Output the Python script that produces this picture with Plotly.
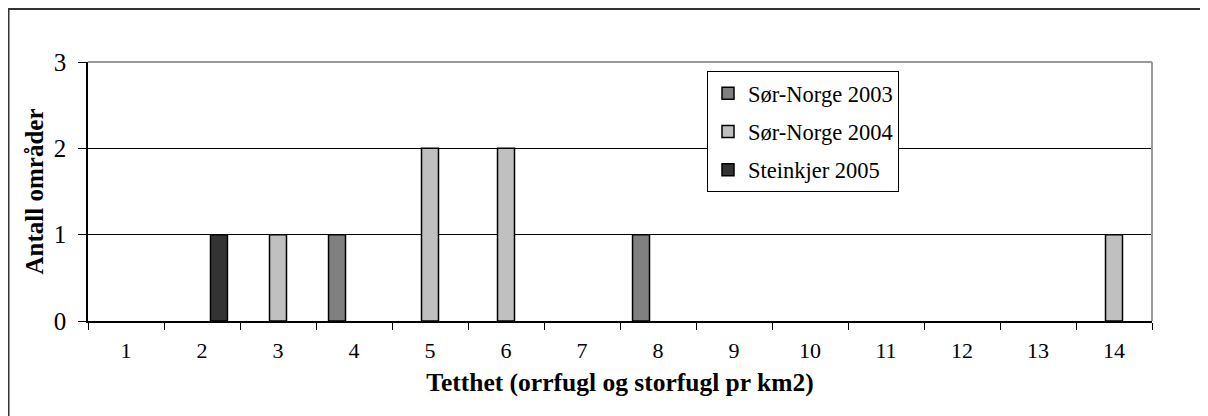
import plotly.graph_objects as go

categories = [str(i) for i in range(1, 15)]
sor_norge_2003 = [0, 0, 0, 1, 0, 0, 0, 1, 0, 0, 0, 0, 0, 0]
sor_norge_2004 = [0, 0, 1, 0, 2, 2, 0, 0, 0, 0, 0, 0, 0, 1]
steinkjer_2005 = [0, 1, 0, 0, 0, 0, 0, 0, 0, 0, 0, 0, 0, 0]

series = [
    ("Sør-Norge 2003", sor_norge_2003, "#808080"),
    ("Sør-Norge 2004", sor_norge_2004, "#c0c0c0"),
    ("Steinkjer 2005", steinkjer_2005, "#333333"),
]

FONT = "Liberation Serif"

fig = go.Figure()
for i, (name, vals, col) in enumerate(series):
    fig.add_trace(go.Bar(
        x=categories, y=[v if v else None for v in vals], name=name,
        legendgroup=f"g{i}",
        marker=dict(color=col, line=dict(color="black", width=1.5)),
    ))

# page body has an 8px margin; figure coordinates = page - 8
OFF = 8
W, H = 1200, 408
L, T = 88 - OFF, 62 - OFF
R = W - (1152 - OFF)
B = H - (321 - OFF)
pw, ph = W - L - R, H - T - B

def px(x):
    return (x - OFF - L) / pw

def py(y):
    return (H - B - (y - OFF)) / ph

fig.update_layout(
    width=W, height=H,
    margin=dict(l=L, r=R, t=T, b=B, autoexpand=False),
    paper_bgcolor="white", plot_bgcolor="white",
    barmode="group", bargap=0.33, bargroupgap=0,
    font=dict(family=FONT, color="black"),
    showlegend=True,
    legend=dict(
        x=px(707), y=py(71), xanchor="left", yanchor="top",
        bgcolor="white", bordercolor="black", borderwidth=1,
        font=dict(size=22.5, family=FONT, color="black"), traceorder="grouped",
        tracegroupgap=6,
    ),
    xaxis=dict(
        type="category", tickson="boundaries", ticks="outside", ticklen=7,
        tickcolor="black", showline=True, linecolor="black", linewidth=1.5,
        showgrid=False, tickfont=dict(size=22, family=FONT),
        ticklabelstandoff=9,
        title=dict(text="<b>Tetthet (orrfugl og storfugl pr km2)</b>",
                   font=dict(size=25.5, family=FONT), standoff=11),
        fixedrange=True,
    ),
    yaxis=dict(
        range=[0, 3], dtick=1, ticks="outside", ticklen=8, tickcolor="black",
        showline=True, linecolor="black", linewidth=1.5,
        showgrid=True, gridcolor="black", gridwidth=1, zeroline=False,
        tickfont=dict(size=25, family=FONT), ticklabelstandoff=7,
        title=dict(text="<b>Antall områder</b>",
                   font=dict(size=25, family=FONT), standoff=3),
        fixedrange=True,
    ),
    shapes=[
        dict(type="line", xref="paper", yref="paper", x0=0, x1=1, y0=1, y1=1,
             line=dict(color="#999999", width=2), layer="above"),
        dict(type="line", xref="paper", yref="paper", x0=1, x1=1, y0=0, y1=1,
             line=dict(color="#999999", width=2), layer="above"),
        dict(type="rect", xref="paper", yref="paper",
             x0=px(8.5), x1=px(1240), y0=py(440), y1=py(9),
             line=dict(color="#333333", width=2), layer="below"),
    ],
)

fig.write_html("out.html")
